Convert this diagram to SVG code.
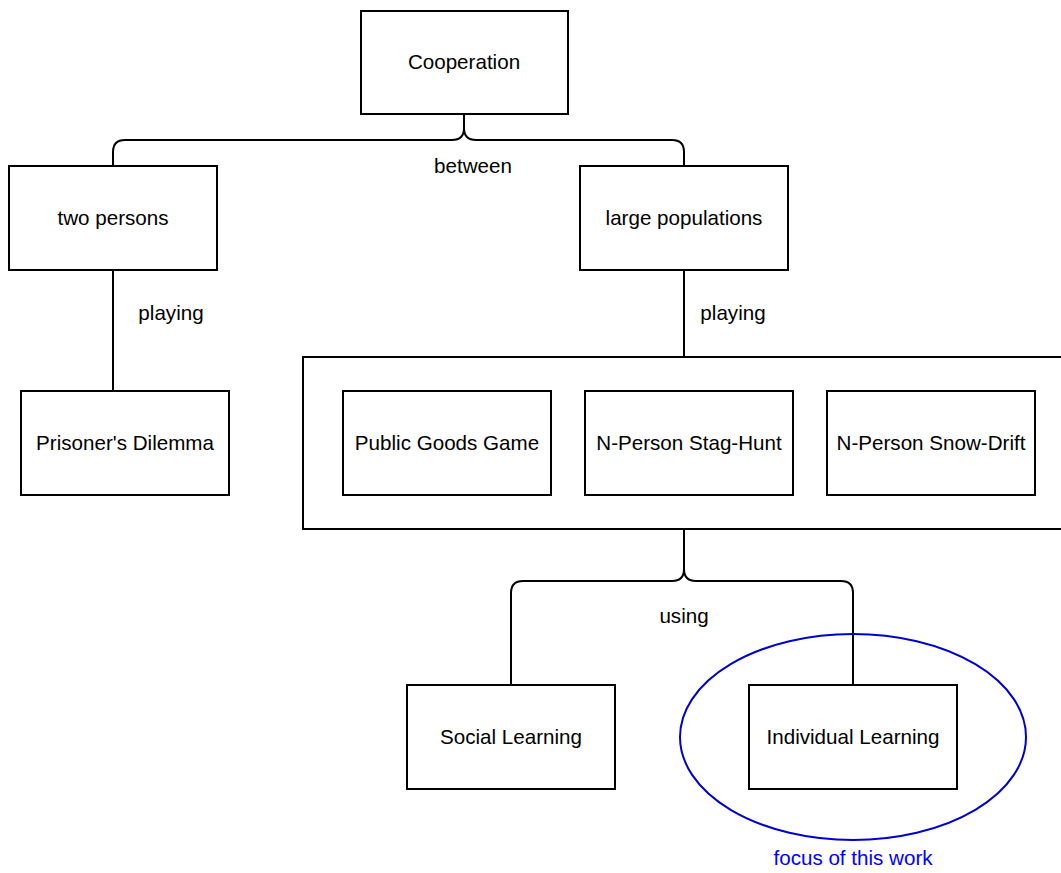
<svg xmlns="http://www.w3.org/2000/svg" width="1061" height="873" viewBox="0 0 1061 873">
<style>
.box{fill:#fff;stroke:#000;stroke-width:2}
.conn{fill:none;stroke:#000;stroke-width:2}
text{font-family:"Liberation Sans",Arial,sans-serif;font-size:20.6px;text-anchor:middle;dominant-baseline:central;fill:#000}
.focus{fill:none;stroke:#0000cc;stroke-width:2}
.blue{fill:#0000ff}
</style>
<rect width="1061" height="873" fill="#fff"/>
<g id="connectors">
<path class="conn" d="M464,114 L464,128 Q464,140 452,140 L125,140 Q113,140 113,152 L113,166"/>
<path class="conn" d="M464,128 Q464,140 476,140 L672,140 Q684,140 684,152 L684,166"/>
<path class="conn" d="M113,270 L113,391"/>
<path class="conn" d="M684,270 L684,357"/>
<path class="conn" d="M684,529 L684,569 Q684,581 672,581 L523,581 Q511,581 511,593 L511,685"/>
<path class="conn" d="M684,569 Q684,581 696,581 L841,581 Q853,581 853,593 L853,685"/>
<text x="473" y="165">between</text>
<text x="171" y="312">playing</text>
<text x="733" y="312">playing</text>
<text x="684" y="615">using</text>
</g>
<g id="cooperation"><rect class="box" x="361" y="11" width="207" height="103"/><text x="464" y="61">Cooperation</text></g>
<g id="two-persons"><rect class="box" x="9" y="166" width="208" height="104"/><text x="113" y="217">two persons</text></g>
<g id="large-populations"><rect class="box" x="580" y="166" width="208" height="104"/><text x="684" y="217">large populations</text></g>
<g id="prisoners-dilemma"><rect class="box" x="21" y="391" width="208" height="104"/><text x="125" y="442">Prisoner's Dilemma</text></g>
<g id="games-group"><rect class="box" x="303" y="357" width="770" height="172"/></g>
<g id="public-goods"><rect class="box" x="343" y="391" width="208" height="104"/><text x="447" y="442">Public Goods Game</text></g>
<g id="stag-hunt"><rect class="box" x="585" y="391" width="208" height="104"/><text x="689" y="442">N-Person Stag-Hunt</text></g>
<g id="snow-drift"><rect class="box" x="827" y="391" width="208" height="104"/><text x="931" y="442">N-Person Snow-Drift</text></g>
<g id="social-learning"><rect class="box" x="407" y="685" width="208" height="104"/><text x="511" y="736">Social Learning</text></g>
<g id="focus"><ellipse class="focus" cx="853" cy="737" rx="173" ry="103"/><text class="blue" x="853" y="857">focus of this work</text></g>
<g id="individual-learning"><rect class="box" x="749" y="685" width="208" height="104"/><text x="853" y="736">Individual Learning</text></g>
</svg>
